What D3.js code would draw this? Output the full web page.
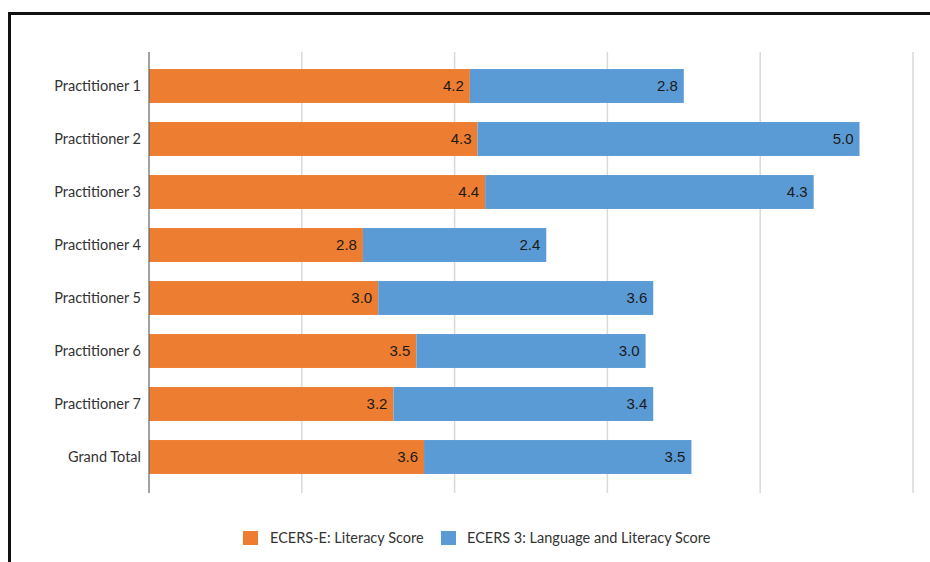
<!DOCTYPE html>
<html>
<head>
<meta charset="utf-8">
<script src="https://cdn.jsdelivr.net/npm/d3@7/dist/d3.min.js"></script>
<style>
  html, body { margin: 0; padding: 0; background: #fff; }
  svg { display: block; }
</style>
</head>
<body>
<svg id="chart" width="930" height="562"></svg>
<script>
// Practitioner scores, stacked per row
const categories = ["Practitioner 1", "Practitioner 2", "Practitioner 3", "Practitioner 4",
                    "Practitioner 5", "Practitioner 6", "Practitioner 7", "Grand Total"];
const literacyScores = [4.2, 4.3, 4.4, 2.8, 3.0, 3.5, 3.2, 3.6];
const languageScores = [2.8, 5.0, 4.3, 2.4, 3.6, 3.0, 3.4, 3.5];
const seriesNames = ["ECERS-E: Literacy Score", "ECERS 3: Language and Literacy Score"];
const seriesColors = ["#ED7D31", "#5B9BD5"];
const xTicks = [0, 2, 4, 6, 8, 10];

const svg = d3.select("#chart");
const labelFont = "Lato, 'Open Sans', sans-serif";
const valueFont = "'Liberation Sans', Arial, sans-serif";

// Outer frame (top and left edges)
svg.append("line").attr("x1", 9).attr("x2", 930).attr("y1", 13.5).attr("y2", 13.5)
  .attr("stroke", "#111").attr("stroke-width", 3);
svg.append("line").attr("x1", 9.5).attr("x2", 9.5).attr("y1", 12).attr("y2", 562)
  .attr("stroke", "#111").attr("stroke-width", 3);

const x = d3.scaleLinear().domain([0, 10]).range([149, 913]);
const y = d3.scaleBand().domain(categories).range([59.5, 483.5]).paddingInner(0.36).paddingOuter(0.18);

const gridTop = 52, gridBottom = 493;

// Vertical gridlines
svg.append("g").selectAll("line").data(xTicks.slice(1)).join("line")
  .attr("x1", d => x(d)).attr("x2", d => x(d))
  .attr("y1", gridTop).attr("y2", gridBottom)
  .attr("stroke", "#d9d9d9").attr("stroke-width", 1.5);

// Stacked data
const rows = categories.map((c, i) => ({ cat: c, a: literacyScores[i], b: languageScores[i] }));
const stack = d3.stack().keys(["a", "b"])(rows);

svg.append("g").selectAll("g").data(stack).join("g")
  .attr("fill", (d, i) => seriesColors[i])
  .selectAll("rect").data(d => d).join("rect")
  .attr("x", d => x(d[0]))
  .attr("width", d => x(d[1]) - x(d[0]))
  .attr("y", d => y(d.data.cat))
  .attr("height", y.bandwidth());

// Value labels at the inner end of each segment
svg.append("g").selectAll("g").data(stack).join("g")
  .selectAll("text").data(d => d.map(v => ({ v, key: d.key }))).join("text")
  .attr("x", d => x(d.v[1]) - 6)
  .attr("y", d => y(d.v.data.cat) + y.bandwidth() / 2)
  .attr("dy", "0.36em")
  .attr("text-anchor", "end")
  .attr("font-family", valueFont)
  .attr("font-size", 15)
  .attr("fill", "#1a1a1a")
  .text(d => d3.format(".1f")(d.v.data[d.key]));

// Category axis
const yAxis = svg.append("g").attr("transform", "translate(149,0)")
  .call(d3.axisLeft(y).tickSize(0).tickPadding(8));
yAxis.select(".domain").remove();
yAxis.selectAll("text").attr("font-family", labelFont).attr("font-size", 14.5).attr("fill", "#333");
svg.append("line").attr("x1", 149).attr("x2", 149).attr("y1", gridTop).attr("y2", gridBottom)
  .attr("stroke", "#666").attr("stroke-width", 1.2);

// Legend
const legendItems = [{ x: 243, tx: 270 }, { x: 441, tx: 467 }];
const legend = svg.append("g");
legendItems.forEach((p, i) => {
  legend.append("rect").attr("x", p.x).attr("y", 531).attr("width", 15).attr("height", 14)
    .attr("fill", seriesColors[i]);
  legend.append("text").attr("x", p.tx).attr("y", 538).attr("dy", "0.36em")
    .attr("font-family", labelFont).attr("font-size", 14.5).attr("fill", "#333")
    .text(seriesNames[i]);
});
</script>
</body>
</html>
